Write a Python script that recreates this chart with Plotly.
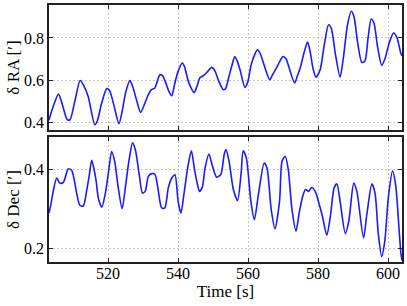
import plotly.graph_objects as go
from plotly.subplots import make_subplots

# --- data ---
ra_time = [503.1, 504.3, 505.8, 506.8, 508.3, 509.1, 510.5, 512.0, 513.0, 514.3,
           516.2, 517.0, 518.0, 519.6, 520.4, 521.5, 523.1, 524.0, 525.0, 526.2,
           527.0, 528.2, 529.3, 530.5, 531.5, 532.4, 533.3, 534.8, 535.6, 536.4,
           537.4, 538.2, 539.0, 540.0, 541.2, 541.8, 543.0, 544.6, 545.4, 546.2,
           547.0, 548.2, 549.6, 550.5, 551.5, 552.9, 553.6, 554.5, 555.4, 556.2,
           556.9, 557.7, 559.1, 559.9, 561.0, 562.7, 563.5, 564.6, 566.2, 567.0,
           568.1, 569.1, 570.0, 570.9, 571.6, 573.3, 574.1, 574.9, 576.0, 577.0,
           577.8, 578.5, 579.4, 580.6, 581.8, 583.0, 583.8, 585.0, 586.3, 587.2,
           588.4, 589.5, 590.3, 591.3, 592.5, 593.4, 594.3, 595.2, 596.0, 597.0,
           598.2, 599.1, 600.4, 601.6, 602.6, 603.6, 604.0]
ra_vals = [0.410, 0.474, 0.533, 0.490, 0.412, 0.411, 0.500, 0.598, 0.575, 0.522,
           0.387, 0.410, 0.480, 0.559, 0.550, 0.490, 0.392, 0.450, 0.540, 0.597,
           0.570, 0.500, 0.446, 0.490, 0.530, 0.554, 0.561, 0.625, 0.620, 0.590,
           0.545, 0.525, 0.580, 0.641, 0.681, 0.665, 0.590, 0.541, 0.570, 0.610,
           0.618, 0.636, 0.660, 0.645, 0.600, 0.554, 0.560, 0.614, 0.670, 0.712,
           0.690, 0.649, 0.565, 0.590, 0.680, 0.744, 0.725, 0.670, 0.601, 0.625,
           0.657, 0.690, 0.712, 0.700, 0.665, 0.586, 0.620, 0.657, 0.730, 0.781,
           0.730, 0.660, 0.614, 0.649, 0.770, 0.863, 0.845, 0.720, 0.614, 0.700,
           0.860, 0.927, 0.900, 0.780, 0.684, 0.690, 0.800, 0.890, 0.870, 0.760,
           0.670, 0.700, 0.780, 0.824, 0.800, 0.731, 0.715]

dec_time = [503.1, 503.6, 504.3, 505.3, 506.2, 507.2, 508.6, 509.6, 511.0, 511.9,
            512.9, 513.9, 514.6, 515.3, 516.0, 516.6, 517.2, 518.2, 519.3, 520.2,
            521.0, 521.9, 522.8, 524.0, 525.0, 525.9, 527.0, 527.8, 528.9, 529.8,
            530.6, 531.5, 532.5, 533.4, 534.3, 535.3, 536.2, 537.2, 538.2, 539.1,
            540.0, 540.8, 541.7, 542.8, 543.8, 544.7, 545.6, 546.1, 546.9, 547.7,
            548.8, 549.8, 551.0, 552.2, 553.2, 553.7, 554.6, 555.8, 557.0, 558.0,
            558.6, 559.5, 560.8, 561.8, 563.0, 564.6, 565.4, 566.6, 567.7, 569.0,
            569.7, 570.6, 571.5, 572.5, 573.7, 574.6, 575.6, 576.4, 577.3, 578.2,
            579.2, 580.1, 581.3, 582.5, 583.5, 584.6, 585.4, 586.3, 587.8, 588.8,
            590.2, 591.1, 593.0, 594.0, 595.4, 596.3, 597.2, 598.2, 599.1, 600.1,
            601.3, 602.2, 603.2, 603.7, 604.0]
dec_vals = [0.290, 0.310, 0.345, 0.379, 0.366, 0.368, 0.402, 0.398, 0.341, 0.310,
            0.308, 0.349, 0.385, 0.424, 0.400, 0.370, 0.328, 0.305, 0.345, 0.400,
            0.446, 0.420, 0.360, 0.301, 0.360, 0.420, 0.468, 0.450, 0.387, 0.341,
            0.345, 0.383, 0.390, 0.388, 0.349, 0.303, 0.303, 0.354, 0.379, 0.387,
            0.320, 0.290, 0.340, 0.408, 0.448, 0.400, 0.360, 0.345, 0.355, 0.404,
            0.440, 0.410, 0.381, 0.388, 0.440, 0.451, 0.420, 0.350, 0.322, 0.390,
            0.448, 0.430, 0.320, 0.273, 0.340, 0.417, 0.405, 0.300, 0.250, 0.320,
            0.421, 0.434, 0.400, 0.303, 0.244, 0.290, 0.332, 0.350, 0.345, 0.355,
            0.345, 0.320, 0.280, 0.234, 0.280, 0.354, 0.364, 0.320, 0.238, 0.270,
            0.366, 0.345, 0.227, 0.290, 0.364, 0.340, 0.240, 0.180, 0.220, 0.330,
            0.397, 0.360, 0.244, 0.187, 0.170]

x_ticks = [520, 540, 560, 580, 600]
ra_ticks = [0.4, 0.6, 0.8]
dec_ticks = [0.2, 0.4]

FONT = "Liberation Serif, Times New Roman, serif"
LINE = "#1a1aff"

fig = make_subplots(rows=2, cols=1, shared_xaxes=True, vertical_spacing=0.027)
fig.add_trace(go.Scatter(x=ra_time, y=ra_vals, mode="lines",
                         line=dict(color=LINE, width=1.6, shape="spline", smoothing=0.7),
                         showlegend=False), row=1, col=1)
fig.add_trace(go.Scatter(x=dec_time, y=dec_vals, mode="lines",
                         line=dict(color=LINE, width=1.6, shape="spline", smoothing=0.7),
                         showlegend=False), row=2, col=1)

axis_common = dict(showline=True, linecolor="#222", linewidth=1.5, mirror="ticks",
                   ticks="inside", ticklen=4, tickwidth=1, tickcolor="#222",
                   showgrid=True, gridcolor="#c8c8c8", gridwidth=0.8, griddash="2px,2px",
                   zeroline=False, automargin=False,
                   tickfont=dict(family=FONT, size=16, color="black"))

fig.update_xaxes(**axis_common, range=[503.1, 604], tickvals=x_ticks)
fig.update_xaxes(showticklabels=False, row=1, col=1)
fig.update_xaxes(title=dict(text="Time [s]", font=dict(family=FONT, size=17, color="black"),
                            standoff=0),
                 ticklabelstandoff=-4,
                 tickvals=x_ticks, ticktext=[str(v) for v in x_ticks], row=2, col=1)

fig.update_yaxes(**axis_common)
fig.update_yaxes(range=[0.362, 0.957], tickvals=ra_ticks, ticktext=["0.4", "0.6", "0.8"],
                 title=dict(text="δ RA [′]", font=dict(family=FONT, size=17, color="black"),
                            standoff=0), row=1, col=1)
fig.update_yaxes(range=[0.166, 0.483], tickvals=dec_ticks, ticktext=["0.2", "0.4"],
                 title=dict(text="δ Dec [′]", font=dict(family=FONT, size=17, color="black"),
                            standoff=0), row=2, col=1)

fig.update_layout(width=407, height=306, margin=dict(l=49, r=5, t=5, b=44),
                  paper_bgcolor="white", plot_bgcolor="white",
                  font=dict(family=FONT, color="black"))

fig.write_html("out.html", config={"displayModeBar": False},
               post_script="document.body.style.margin='0';document.body.style.padding='0';")
